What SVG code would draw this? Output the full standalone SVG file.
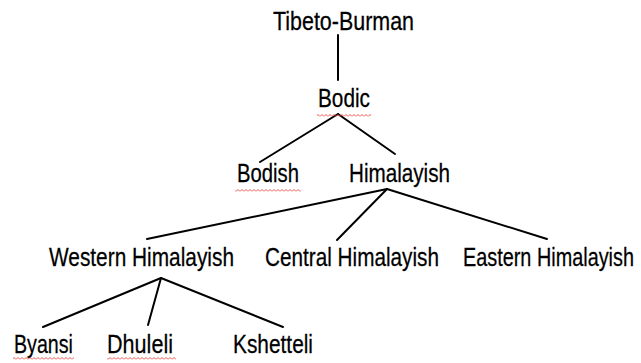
<svg xmlns="http://www.w3.org/2000/svg" width="641" height="363" viewBox="0 0 641 363">
<style>
.t{font-family:"Liberation Sans",Arial,sans-serif;font-size:20px;fill:#000;stroke:#000;stroke-width:0.2}
.c line{stroke:#000;stroke-width:2;stroke-linecap:round}
.sq{fill:url(#zz)}
</style>
<defs>
<pattern id="zz" patternUnits="userSpaceOnUse" x="0" y="0" width="4" height="3">
<polyline points="0,2.5 2,0.5 4,2.5" fill="none" stroke="#e8403c" stroke-width="0.9"/>
</pattern>
</defs>
<rect width="641" height="363" fill="#fff"/>
<g class="c" id="connectors">
<line x1="338" y1="35" x2="338" y2="80"/>
<line x1="338" y1="114" x2="260" y2="162"/>
<line x1="338" y1="114" x2="395" y2="154"/>
<line x1="387" y1="189" x2="147" y2="239"/>
<line x1="387" y1="189" x2="337" y2="240"/>
<line x1="387" y1="189" x2="547" y2="239"/>
<line x1="161" y1="278" x2="43" y2="327"/>
<line x1="161" y1="278" x2="148" y2="325"/>
<line x1="161" y1="278" x2="283" y2="327"/>
</g>
<g id="tibeto-burman"><text class="t" transform="translate(273,30) scale(1,1.32)" textLength="141" lengthAdjust="spacingAndGlyphs">Tibeto-Burman</text></g>
<g id="bodic"><text class="t" transform="translate(318,107) scale(1,1.32)" textLength="52" lengthAdjust="spacingAndGlyphs">Bodic</text><rect class="sq" x="317" y="114" width="54" height="3"/></g>
<g id="bodish"><text class="t" transform="translate(237,182) scale(1,1.32)" textLength="62" lengthAdjust="spacingAndGlyphs">Bodish</text><rect class="sq" x="235" y="189" width="66" height="3"/></g>
<g id="himalayish"><text class="t" transform="translate(349,182) scale(1,1.32)" textLength="101" lengthAdjust="spacingAndGlyphs">Himalayish</text></g>
<g id="western"><text class="t" transform="translate(49,266) scale(1,1.32)" textLength="185" lengthAdjust="spacingAndGlyphs">Western Himalayish</text></g>
<g id="central"><text class="t" transform="translate(265,266) scale(1,1.32)" textLength="174" lengthAdjust="spacingAndGlyphs">Central Himalayish</text></g>
<g id="eastern"><text class="t" transform="translate(463,266) scale(1,1.32)" textLength="171" lengthAdjust="spacingAndGlyphs">Eastern Himalayish</text></g>
<g id="byansi"><text class="t" transform="translate(14,353) scale(1,1.32)" textLength="59" lengthAdjust="spacingAndGlyphs">Byansi</text><rect class="sq" x="13" y="357" width="61" height="3"/></g>
<g id="dhuleli"><text class="t" transform="translate(107,353) scale(1,1.32)" textLength="66" lengthAdjust="spacingAndGlyphs">Dhuleli</text><rect class="sq" x="107" y="357" width="69" height="3"/></g>
<g id="kshetteli"><text class="t" transform="translate(233,353) scale(1,1.32)" textLength="80" lengthAdjust="spacingAndGlyphs">Kshetteli</text></g>
</svg>
